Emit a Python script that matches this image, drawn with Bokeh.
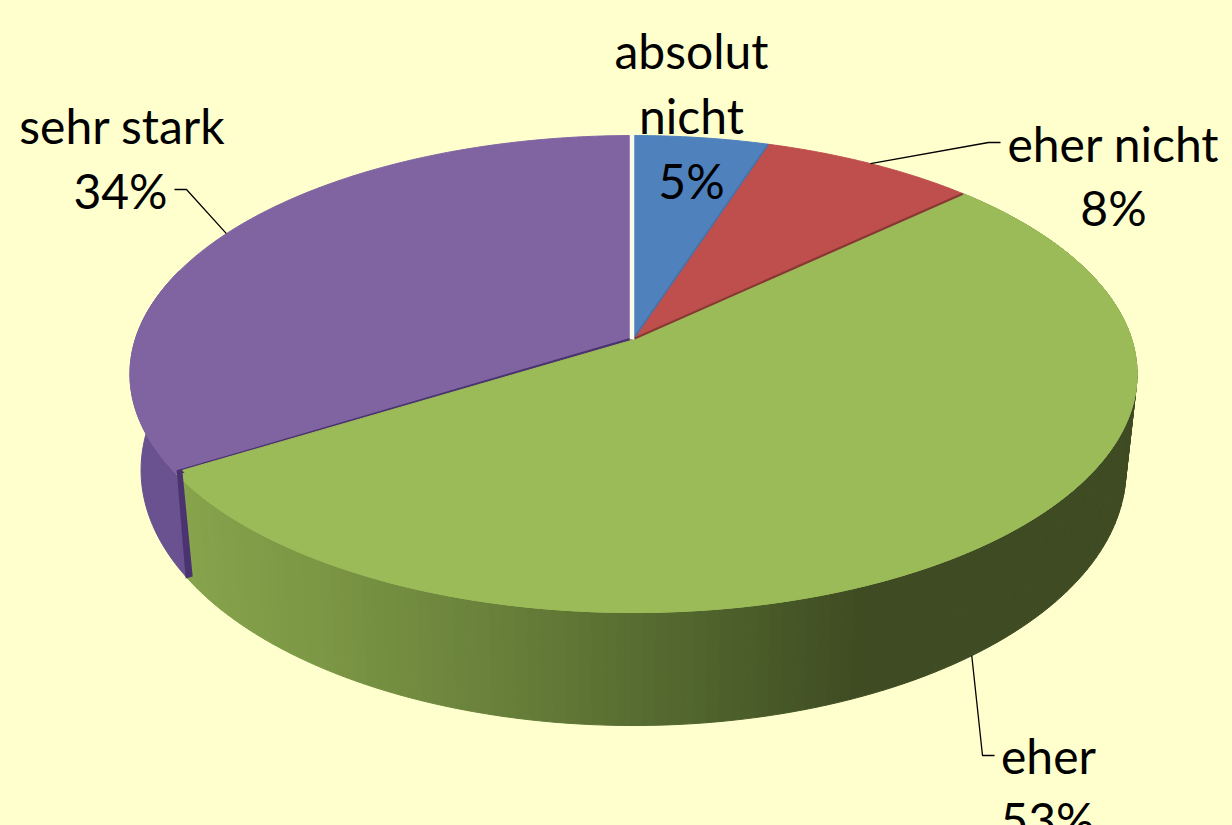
import math
from bokeh.plotting import figure
from bokeh.embed import file_html
from bokeh.resources import INLINE
from bokeh.core.properties import value

categories = ["absolut nicht", "eher nicht", "eher", "sehr stark"]
shares = [5, 8, 53, 34]
top_colors = ["#4F81BD", "#BE4F4C", "#9BBB59", "#8064A2"]
BG = "#FFFFCD"

# perspective of the disc (layout, not data)
CX, CY, A, B, K = 633.0, 338.0, 497.9, 233.2, 0.149
S2, CY2, B2 = 0.978, 431.5, 249.8

def top(t):
    r = math.radians(t); u, v = math.sin(r), math.cos(r); d = 1 + K * v
    return CX + A * u / d, CY - B * v / d

def bot(t):
    r = math.radians(t); u, v = math.sin(r), math.cos(r); d = 1 + K * v
    return CX + A * S2 * u / d, CY2 - B2 * v / d

def steps(a, b, n=None):
    n = n or max(2, int(abs(b - a) * 2))
    return [a + (b - a) * i / n for i in range(n + 1)]

def mix(x):
    st = [(180, (0x88, 0xA4, 0x4C)), (320, (0x7C, 0x97, 0x45)), (500, (0x68, 0x80, 0x3A)),
          (650, (0x56, 0x6B, 0x30)), (780, (0x47, 0x58, 0x27)), (860, (0x3F, 0x4B, 0x22)), (1300, (0x3F, 0x4B, 0x22))]
    for (x0, c0), (x1, c1) in zip(st, st[1:]):
        if x <= x1:
            f = max(0, (x - x0) / (x1 - x0))
            return "#%02X%02X%02X" % tuple(round(a + (b - a) * f) for a, b in zip(c0, c1))
    return "#3F4B22"

total = sum(shares)
edges = [0]
for s in shares:
    edges.append(edges[-1] + 360.0 * s / total)
mids = [(a + b) / 2 for a, b in zip(edges, edges[1:])]

p = figure(width=1232, height=825, x_range=(0, 1232), y_range=(825, 0),
           toolbar_location=None, output_backend="svg", min_border=0,
           background_fill_color=BG, border_fill_color=BG, outline_line_color=None)
p.axis.visible = False
p.grid.visible = False

# side walls
g0, g1 = edges[2], edges[3]
for a, b in zip(steps(g1 + 0.0, g0, 150)[:-1], steps(g1, g0, 150)[1:]):
    ta, tb, ba, bb = top(a), top(b), bot(a), bot(b)
    gx = 0.0
    c = mix((ba[0] + bb[0]) / 2)
    p.patch([ta[0], tb[0], bb[0], ba[0]], [ta[1], tb[1], bb[1], ba[1]], fill_color=c, line_color=c, line_width=1)

pur = steps(g1, g1 + 50, 60)
xs = [top(t)[0] for t in pur] + [bot(t)[0] for t in reversed(pur)]
ys = [top(t)[1] for t in pur] + [bot(t)[1] for t in reversed(pur)]
p.patch(xs, ys, fill_color="#6A5190", line_color="#6A5190", line_width=1)

# top faces
for i, c in enumerate(top_colors):
    rim = steps(edges[i], edges[i + 1])
    p.patch([CX] + [top(t)[0] for t in rim], [CY] + [top(t)[1] for t in rim], fill_color=c, line_color=c, line_width=1)

# dark cut of the purple slice
tp, bp = top(g1), bot(g1)
p.patch([CX - 2, tp[0], bp[0] - 1, bp[0] + 6, tp[0] + 6, CX],
        [CY - 1, tp[1] - 4, bp[1] + 1, bp[1] - 1, tp[1] - 1, CY + 3],
        fill_color="#4B3270", line_color=None)
# repaint green tip on top of the cut
rim = steps(g0, g1)
p.patch([CX + 1] + [top(t)[0] + 6 * max(0, (t - 205) / (g1 - 205)) for t in rim],
        [CY + 1] + [top(t)[1] - 4 * max(0, (t - 205) / (g1 - 205)) for t in rim],
        fill_color=top_colors[2], line_color=top_colors[2], line_width=1)

# seams
e1, e2 = top(edges[1]), top(edges[2])
p.line([CX, e1[0]], [CY, e1[1]], line_color="#4273AC", line_width=1.5)
p.line([CX + 1, e2[0]], [CY, e2[1]], line_color="#8A3634", line_width=2.2)
p.line([CX - 1.5, CX - 1.5], [top(0)[1] - 1, CY + 1], line_color="#FBFBEA", line_width=4.5)

# leaders
lead = [([top(mids[1])], [(988, 142), (1000, 142)]),
        ([bot(mids[2])], [(982, 755), (994, 755)]),
        ([top(mids[3])], [(186, 189), (174, 189)])]
for start, rest in lead:
    pts = start + rest
    p.line([q[0] for q in pts], [q[1] for q in pts], line_color="black", line_width=1.3)

label_lines = [["absolut", "nicht", "5%"], ["eher nicht", "8%"], ["eher", "53%"], ["sehr stark", "34%"]]
label_pos = [[(691, 50), (691, 115), (691, 180)], [(1113, 143), (1113, 207)],
             [(1048, 755), (1047, 819)], [(122, 125), (120, 190)]]
for ls, ps in zip(label_lines, label_pos):
    p.text([q[0] for q in ps], [q[1] for q in ps], text=ls, text_font=value("Lato"),
           text_font_size="48px", text_align="center", text_baseline="alphabetic", text_color="black")

html = file_html(p, INLINE)
html = html.replace("</head>", "<style>html,body{margin:0;padding:0;overflow:hidden;background:%s}</style></head>" % BG)
open("out.html", "w").write(html)
